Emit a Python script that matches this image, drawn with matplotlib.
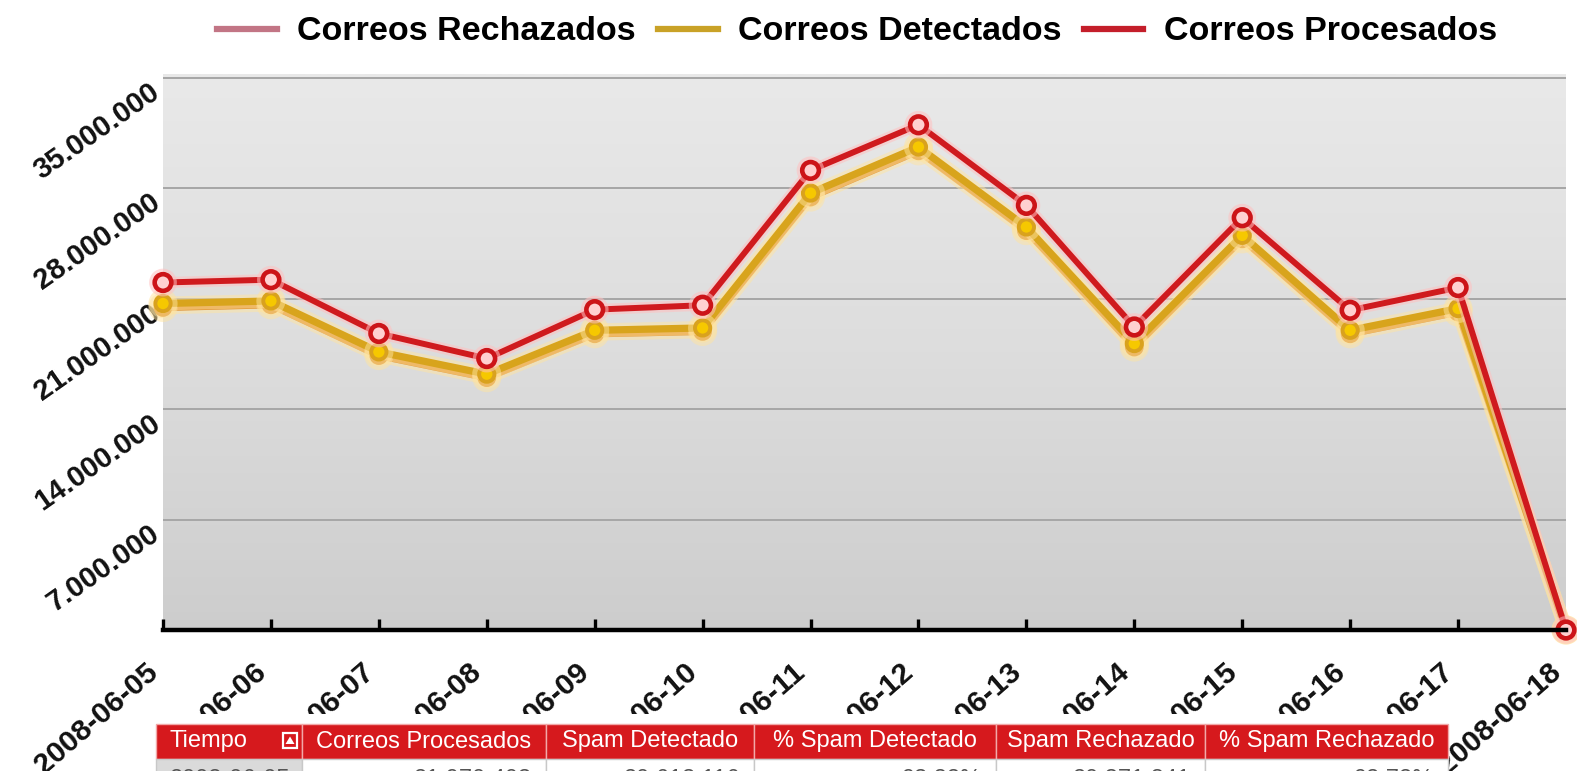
import numpy as np
import matplotlib
matplotlib.use("Agg")
import matplotlib.pyplot as plt
from matplotlib.lines import Line2D
from matplotlib.patches import Rectangle, Polygon
from matplotlib.colors import LinearSegmentedColormap
import matplotlib.patheffects as pe
import matplotlib.transforms as mtransforms

# ---------------- data ----------------
dates = ["2008-06-05", "2008-06-06", "2008-06-07", "2008-06-08", "2008-06-09",
         "2008-06-10", "2008-06-11", "2008-06-12", "2008-06-13", "2008-06-14",
         "2008-06-15", "2008-06-16", "2008-06-17", "2008-06-18"]
procesados = [22030000, 22210000, 18800000, 17210000, 20310000, 20590000, 29140000,
              32030000, 26920000, 19210000, 26140000, 20270000, 21710000, 0]
detectados = [20700000, 20860000, 17630000, 16220000, 19000000, 19150000, 27700000,
              30620000, 25550000, 18160000, 25020000, 19000000, 20380000, 0]
rechazados = [20450000, 20620000, 17400000, 16000000, 18780000, 18930000, 27450000,
              30380000, 25320000, 17940000, 24800000, 18780000, 20160000, 0]
series_names = ["Correos Rechazados", "Correos Detectados", "Correos Procesados"]
yticks = [7000000, 14000000, 21000000, 28000000, 35000000]

table_header = ["Tiempo", "Correos Procesados", "Spam Detectado", "% Spam Detectado",
                "Spam Rechazado", "% Spam Rechazado"]
table_row = ["2008-06-05", "21.970.403", "20.613.116", "93,82%", "20.371.841", "92,72%"]

# ---------------- figure ----------------
W, H = 1577, 771
fig = plt.figure(figsize=(W / 100, H / 100), dpi=100)
fig.patch.set_facecolor("white")

def fx(px):
    return px / W

def fy(py):
    return 1 - py / H

ax = fig.add_axes([fx(163), fy(630), fx(1566) - fx(163), fy(74) - fy(630)])

# gradient background
cmap = LinearSegmentedColormap.from_list("bg", ["#cdcdcd", "#dddddd", "#e9e9e9"])
grad = np.linspace(0, 1, 256).reshape(-1, 1)
ax.imshow(grad, extent=[0, 1, 0, 1], transform=ax.transAxes, cmap=cmap,
          aspect="auto", origin="lower", zorder=0)

x = np.arange(len(dates))

glow_gold = [pe.Stroke(linewidth=10, foreground="#ffe4a0", alpha=0.5), pe.Normal()]
glow_red = [pe.Stroke(linewidth=8, foreground="#ffc0c0", alpha=0.55), pe.Normal()]

ax.plot(x, rechazados, color="#df8e2c", lw=5.2, marker="o", ms=11,
        mfc="#f0b020", mec="#dc8e2a", mew=2.5, zorder=3, clip_on=False,
        path_effects=glow_gold)
ax.plot(x, detectados, color="#d8a41c", lw=5.2, marker="o", ms=11,
        mfc="#f6c800", mec="#d9a21e", mew=2.8, zorder=4, clip_on=False,
        path_effects=glow_gold)
ax.plot(x, procesados, color="#cf1a1e", lw=4.3, marker="o", ms=12,
        mfc="#ffd0d0", mec="#cc1418", mew=3.3, zorder=5, clip_on=False,
        path_effects=glow_red)

ax.set_xlim(0, 13)
ax.set_ylim(0, 35250000)

# grid
ax.set_yticks(yticks)
ax.set_yticklabels([f"{v:,}".replace(",", ".") for v in yticks])
ax.yaxis.grid(True, color="#a6a6a6", lw=1.4, zorder=1)
ax.set_axisbelow(True)

ax.set_xticks(x)
ax.set_xticklabels(dates)

for s in ["left", "right", "top"]:
    ax.spines[s].set_visible(False)
ax.spines["bottom"].set_linewidth(3.2)
ax.spines["bottom"].set_color("black")
ax.spines["bottom"].set_zorder(6)

ax.tick_params(axis="y", length=0, pad=10)
ax.tick_params(axis="x", direction="in", length=8, width=2.4, color="black", pad=24)

for lab in ax.get_yticklabels():
    lab.set_rotation(35)
    lab.set_rotation_mode("anchor")
    lab.set_ha("right")
    lab.set_va("top")
    lab.set_fontsize(21)
    lab.set_fontweight("bold")
    lab.set_family("Liberation Sans")
    lab.set_color("#111111")

xoff = mtransforms.ScaledTranslation(-9 / 100, -5 / 100, fig.dpi_scale_trans)
for lab in ax.get_xticklabels():
    lab.set_rotation(41)
    lab.set_rotation_mode("anchor")
    lab.set_ha("right")
    lab.set_va("center")
    lab.set_fontsize(21.5)
    lab.set_fontweight("bold")
    lab.set_family("Liberation Sans")
    lab.set_color("#111111")
    lab.set_transform(lab.get_transform() + xoff)

# legend
legend_colors = ["#c27585", "#c9a227", "#c41e2a"]
handles = [Line2D([0], [0], color=c, lw=4.5) for c in legend_colors]
fig.legend(handles, series_names, loc="center", bbox_to_anchor=(fx(857), fy(32)),
           ncol=3, frameon=False, handlelength=1.75, handletextpad=0.6,
           columnspacing=0.65, prop={"family": "Liberation Sans", "weight": "bold", "size": 24.5})

# ---------------- table ----------------
col_edges = [156, 302, 546, 754, 996, 1205, 1448]
hdr_top, hdr_bot, row_bot = 724, 759, 798

fig.add_artist(Rectangle((fx(137), fy(row_bot)), fx(1448) - fx(137), fy(714) - fy(row_bot),
                         transform=fig.transFigure, facecolor="white", edgecolor="none", zorder=5))
tfont = ["Liberation Sans Narrow", "Liberation Sans", "DejaVu Sans"]
for i, name in enumerate(table_header):
    x0, x1 = col_edges[i], col_edges[i + 1]
    fig.add_artist(Rectangle((fx(x0), fy(hdr_bot)), fx(x1) - fx(x0), fy(hdr_top) - fy(hdr_bot),
                             transform=fig.transFigure, facecolor="#d6191d",
                             edgecolor="#f2a8a8", lw=1, zorder=6))
    cell_fc = "#dadada" if i == 0 else "white"
    fig.add_artist(Rectangle((fx(x0), fy(row_bot)), fx(x1) - fx(x0), fy(hdr_bot) - fy(row_bot),
                             transform=fig.transFigure, facecolor=cell_fc,
                             edgecolor="#c8c8c8", lw=1, zorder=6))
    if i == 0:
        fig.text(fx(x0 + 14), fy((hdr_top + hdr_bot) / 2), name, ha="left", va="center",
                 color="white", fontsize=17, family=tfont, zorder=7)
        fig.text(fx(x0 + 14), fy(780), table_row[i], ha="left", va="center",
                 color="#555555", fontsize=17, family=tfont, zorder=7)
        # sort icon
        fig.add_artist(Rectangle((fx(283), fy(748)), fx(297) - fx(283), fy(733) - fy(748),
                                 transform=fig.transFigure, facecolor="#d6191d",
                                 edgecolor="white", lw=1.6, zorder=7))
        fig.add_artist(Polygon([[fx(285.5), fy(744)], [fx(294.5), fy(744)], [fx(290), fy(736.5)]],
                               closed=True, transform=fig.transFigure, facecolor="white",
                               edgecolor="none", zorder=8))
    else:
        fig.text(fx((x0 + x1) / 2), fy((hdr_top + hdr_bot) / 2), name, ha="center", va="center",
                 color="white", fontsize=17, family=tfont, zorder=7)
        fig.text(fx(x1 - 14), fy(780), table_row[i], ha="right", va="center",
                 color="#555555", fontsize=17, family=tfont, zorder=7)

fig.savefig("out.png", dpi=100, facecolor="white")
